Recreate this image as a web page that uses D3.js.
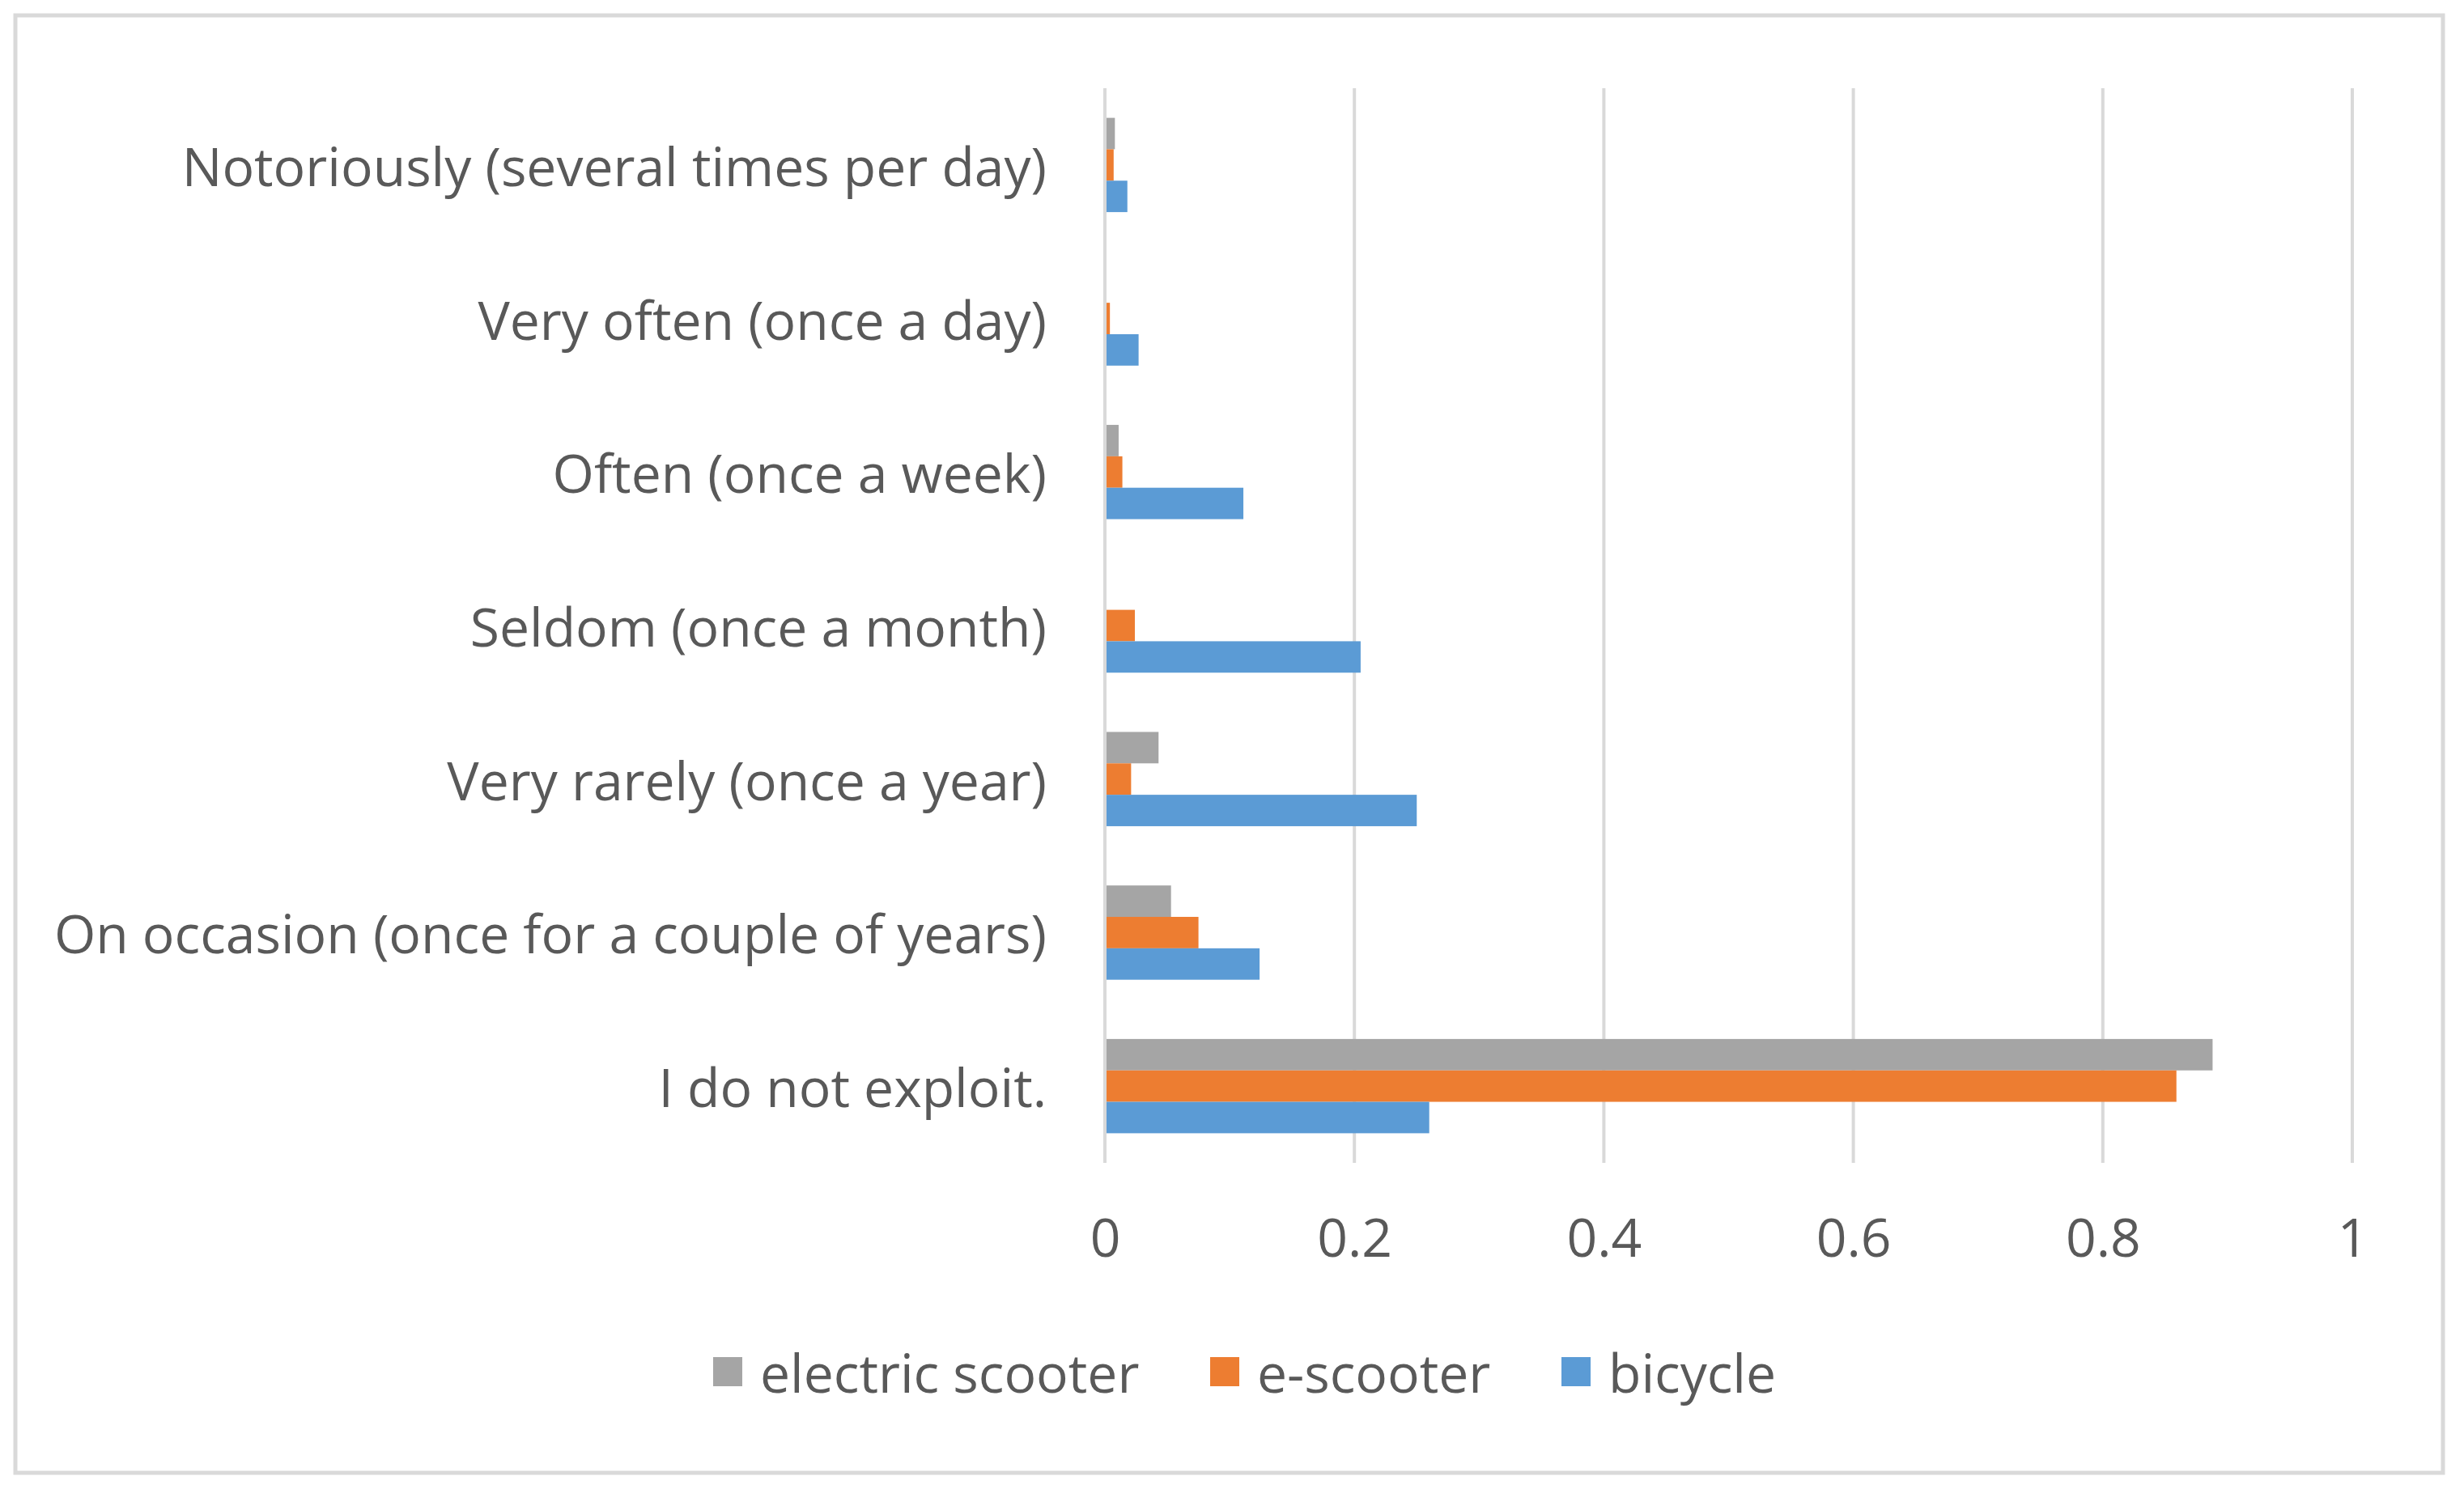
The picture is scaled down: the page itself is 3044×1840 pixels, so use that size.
<!DOCTYPE html>
<html lang="en">
<head>
  <meta charset="utf-8">
  <title>Frequency of use: bicycle, e-scooter, electric scooter</title>
  <style>
    html,body{margin:0;background:#fff}
    svg{display:block}
    .cat-label,.tick-label,.legend-label{font-family:"Open Sans",Lato,sans-serif;fill:#595959}
    .grid{stroke:#d9d9d9;stroke-width:4}
  </style>
  <script src="https://d3js.org/d3.v7.min.js"></script>
</head>
<body>
<svg id="chart"></svg>
<script>
  // data (shares of respondents)
  const categories=[
    'Notoriously (several times per day)',
    'Very often (once a day)',
    'Often (once a week)',
    'Seldom (once a month)',
    'Very rarely (once a year)',
    'On occasion (once for a couple of years)',
    'I do not exploit.'
  ];
  const seriesNames=['electric scooter','e-scooter','bicycle'];
  const electricScooter=[0.008,0.000,0.011,0.000,0.043,0.053,0.888];
  const eScooter=[0.007,0.004,0.014,0.024,0.021,0.075,0.859];
  const bicycle=[0.018,0.027,0.111,0.205,0.250,0.124,0.260];
  const xTicks=[0,0.2,0.4,0.6,0.8,1];
  const colors=['#a5a5a5','#ed7d31','#5b9bd5'];

  const W=3044,H=1840;
  const m={left:1365,right:W-2906,top:109,bottom:H-1437};
  const FS=66;

  const svg=d3.select('#chart').attr('width',W).attr('height',H);
  svg.append('rect').attr('x',19).attr('y',19).attr('width',2999).attr('height',1801)
     .attr('fill','#fff').attr('stroke','#d9d9d9').attr('stroke-width',5);

  const x=d3.scaleLinear().domain([0,1]).range([m.left,W-m.right]);
  const y=d3.scaleBand().domain(categories).range([m.top,H-m.bottom]).paddingInner(0.386).paddingOuter(0.193);
  const ySub=d3.scaleBand().domain(seriesNames).range([0,y.bandwidth()]);

  // gridlines
  svg.append('g').selectAll('line').data(xTicks).enter().append('line')
     .attr('class','grid')
     .attr('x1',d=>x(d)).attr('x2',d=>x(d))
     .attr('y1',m.top).attr('y2',H-m.bottom);

  // bars
  const rows=categories.map((c,i)=>({cat:c,vals:[electricScooter[i],eScooter[i],bicycle[i]]}));
  const grp=svg.append('g').selectAll('g').data(rows).enter().append('g')
     .attr('transform',d=>`translate(0,${y(d.cat)})`);
  grp.selectAll('rect').data(d=>d.vals.map((v,k)=>({v,k}))).enter().append('rect')
     .attr('x',x(0)+2)
     .attr('y',d=>ySub(seriesNames[d.k]))
     .attr('width',d=>Math.max(0,x(d.v)-x(0)-2))
     .attr('height',ySub.bandwidth())
     .attr('fill',d=>colors[d.k]);

  // category labels
  svg.append('g').selectAll('text').data(categories).enter().append('text')
     .attr('class','cat-label')
     .attr('x',m.left-72).attr('y',d=>y(d)+y.bandwidth()/2)
     .attr('text-anchor','end').attr('dominant-baseline','central')
     .attr('font-size',FS).text(d=>d);

  // x axis labels
  const xAxis=d3.axisBottom(x).tickValues(xTicks).tickSize(0).tickPadding(0).tickFormat(d3.format('~g'));
  const ax=svg.append('g').attr('transform',`translate(0,${1530})`).call(xAxis);
  ax.select('.domain').remove();
  ax.selectAll('text').attr('class','tick-label').attr('font-size',FS).attr('dy','0.35em');

  // legend
  const legendItems=[
    {name:'electric scooter',x:881},
    {name:'e-scooter',x:1495},
    {name:'bicycle',x:1929}
  ];
  const lg=svg.append('g').selectAll('g').data(legendItems).enter().append('g')
     .attr('transform',d=>`translate(${d.x},1695)`);
  lg.append('rect').attr('x',0).attr('y',-18).attr('width',36).attr('height',36)
     .attr('fill',(d,i)=>colors[i]);
  lg.append('text').attr('class','legend-label').attr('x',58).attr('y',0)
     .attr('dominant-baseline','central').attr('font-size',FS).text(d=>d.name);
</script>
</body>
</html>
